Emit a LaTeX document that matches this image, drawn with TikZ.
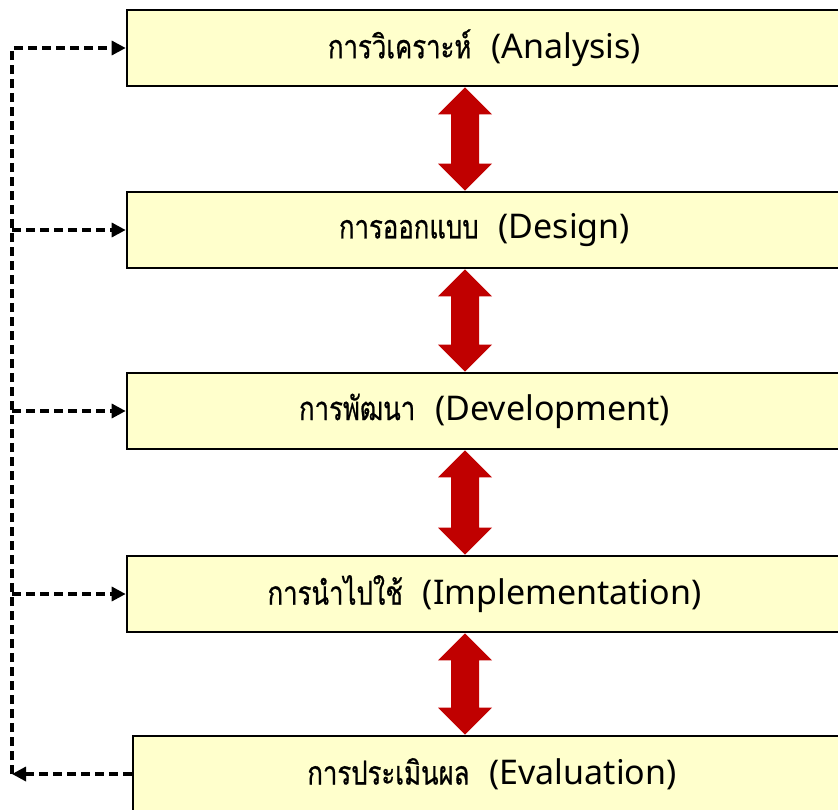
\documentclass[tikz,border=0pt]{standalone}
\usepackage{fontspec}
\setmainfont{Noto Sans}
\newfontfamily\thaifont[Script=Thai, FakeStretch=0.78, FakeBold=0.6]{Loma}
\usetikzlibrary{arrows.meta,calc}
\definecolor{boxfill}{HTML}{FFFFCC}
\definecolor{arrowred}{HTML}{C00000}
\newcommand\stage[2]{{\thaifont\fontsize{33}{36}\selectfont #1}\hspace{20pt}#2}
\tikzset{
  stagebox/.style={draw=black, line width=2.6pt, fill=boxfill, minimum height=76pt, inner sep=0pt, font=\fontsize{34}{38}\selectfont},
  feedback/.style={draw=black, line width=3.2pt, dash pattern=on 9pt off 5pt, -{Triangle[length=14pt,width=14pt]}},
  redarrow/.style={fill=arrowred}
}
\newcommand\dblarr[2]{%
  \fill[redarrow] let \p1=(#1), \p2=(#2) in
    (465pt,\y1) -- (492pt,\y1-27pt) -- (479pt,\y1-27pt) -- (479pt,\y2+27pt) -- (492pt,\y2+27pt)
    -- (465pt,\y2) -- (438pt,\y2+27pt) -- (451pt,\y2+27pt) -- (451pt,\y1-27pt) -- (438pt,\y1-27pt) -- cycle;}
\begin{document}
\begin{tikzpicture}[x=1pt,y=-1pt]
\useasboundingbox (0,0) rectangle (838,809);
\clip (0,0) rectangle (838,809);
\node[stagebox, minimum width=715pt] (b1) at (484.5,48) {\stage{การวิเคราะห์}{(Analysis)}};
\node[stagebox, minimum width=715pt] (b2) at (484.5,230) {\stage{การออกแบบ}{(Design)}};
\node[stagebox, minimum width=715pt] (b3) at (484.5,411) {\stage{การพัฒนา}{(Development)}};
\node[stagebox, minimum width=715pt] (b4) at (484.5,594) {\stage{การนำไปใช้}{(Implementation)}};
\node[stagebox, minimum width=718pt] (b5) at (492,774) {\stage{การประเมินผล}{(Evaluation)}};
\coordinate (L) at (12,0);
\dblarr{b1.south}{b2.north}
\dblarr{b2.south}{b3.north}
\dblarr{b3.south}{b4.north}
\dblarr{b4.south}{b5.north}
\draw[feedback] (b5.west) -- (b5.west -| L);
\draw[feedback] (b5.west -| L) |- (b1.west);
\draw[feedback] (b2.west -| L) -- (b2.west);
\draw[feedback] (b3.west -| L) -- (b3.west);
\draw[feedback] (b4.west -| L) -- (b4.west);
\end{tikzpicture}
\end{document}
